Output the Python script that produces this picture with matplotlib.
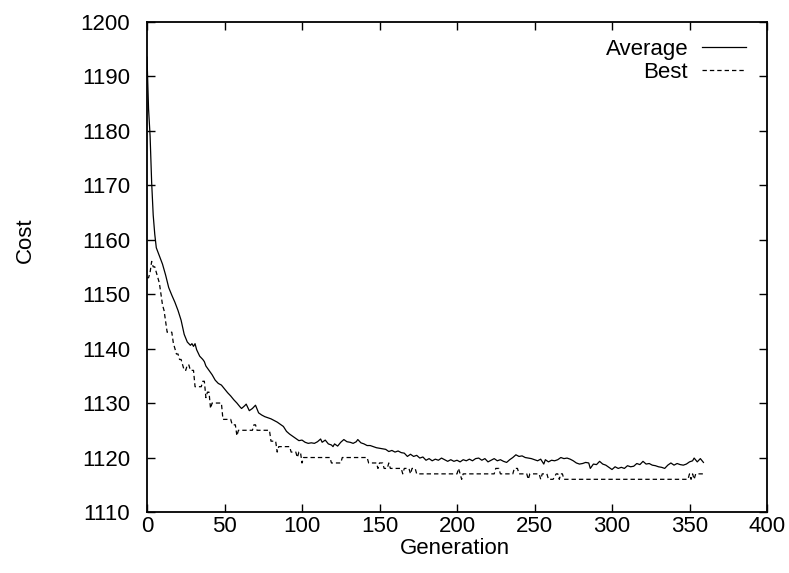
import matplotlib
matplotlib.use("Agg")
import matplotlib.pyplot as plt

plt.rcParams['font.family'] = ['Liberation Sans', 'DejaVu Sans']

# ---- data ----
avg_gen = [0, 1, 2, 3, 4, 5, 6, 8, 10, 12, 14, 16, 18, 20, 22, 24, 26, 28, 29, 30,
           31, 32, 34, 36, 37, 38, 40, 42, 44, 46, 48, 50, 52, 54, 56, 58, 60, 61, 63, 64,
           66, 68, 70, 72, 74, 76, 78, 80, 82, 84, 86, 88, 90, 92, 94, 96, 98, 100, 102, 104,
           106, 108, 110, 112, 113, 115, 117, 119, 120, 121, 123, 125, 127, 129, 131, 133, 135, 136, 138, 140,
           142, 144, 146, 148, 150, 152, 154, 156, 158, 160, 162, 164, 166, 168, 170, 172, 174, 176, 178, 180,
           182, 184, 186, 188, 190, 192, 194, 196, 198, 200, 202, 204, 206, 208, 210, 212, 214, 216, 218, 220,
           222, 224, 226, 228, 230, 232, 234, 236, 238, 240, 242, 244, 246, 248, 250, 252, 254, 256, 257, 259,
           261, 263, 265, 267, 269, 271, 273, 275, 277, 279, 281, 283, 285, 286, 288, 290, 292, 294, 296, 298,
           300, 302, 304, 306, 308, 310, 312, 314, 316, 318, 320, 322, 324, 326, 328, 330, 332, 334, 336, 338,
           340, 342, 344, 346, 348, 350, 352, 353, 355, 357, 359]
avg_cost = [1193.5, 1184, 1179, 1170.5, 1164.5, 1161, 1158.5, 1157, 1155.5, 1153.5, 1151.2, 1149.8, 1148.5, 1147, 1145.2, 1142.6, 1141.2, 1140.6, 1140.9, 1140.4,
            1140.9, 1139.8, 1138.6, 1138.0, 1137.6, 1136.8, 1136.0, 1135.2, 1134.2, 1133.6, 1133.3, 1132.6, 1131.9, 1131.3, 1130.6, 1130.0, 1129.3, 1129.0, 1129.5, 1129.8,
            1128.6, 1129.0, 1129.6, 1128.2, 1127.8, 1127.5, 1127.3, 1127.1, 1126.8, 1126.5, 1126.1, 1125.7, 1124.8, 1124.3, 1123.9, 1123.5, 1123.1, 1123.2, 1122.8, 1122.6,
            1122.7, 1122.6, 1122.9, 1123.4, 1122.8, 1123.2, 1122.5, 1122.3, 1122.0, 1122.5, 1122.1, 1122.8, 1123.3, 1122.9, 1122.8, 1122.6, 1122.9, 1123.3, 1122.7, 1122.5,
            1122.2, 1122.2, 1122.0, 1121.8, 1121.7, 1121.6, 1121.5, 1121.1, 1121.3, 1121.0, 1121.2, 1120.9, 1120.8, 1120.2, 1120.6, 1120.2, 1120.4, 1119.9, 1120.1, 1119.5,
            1119.8, 1119.4, 1119.7, 1119.5, 1119.9, 1119.6, 1119.3, 1119.6, 1119.3, 1119.5, 1119.2, 1119.6, 1119.4, 1119.7, 1119.4, 1119.8, 1119.9, 1119.5, 1119.8, 1119.2,
            1119.5, 1119.8, 1119.4, 1119.6, 1119.3, 1119.1, 1119.6, 1120.0, 1120.5, 1120.2, 1120.3, 1120.0, 1119.9, 1119.8, 1119.6, 1119.4, 1119.7, 1118.8, 1119.6, 1119.2,
            1119.5, 1119.4, 1119.6, 1120.0, 1119.8, 1119.9, 1119.7, 1119.4, 1119.0, 1118.8, 1118.9, 1119.1, 1119.0, 1118.0, 1118.8, 1118.7, 1119.3, 1118.8, 1118.6, 1118.2,
            1117.8, 1118.3, 1118.0, 1118.2, 1118.0, 1118.5, 1118.3, 1118.4, 1118.9, 1118.7, 1119.3, 1118.8, 1118.9, 1118.6, 1118.5, 1118.3, 1118.2, 1118.0, 1118.6, 1119.0,
            1118.6, 1118.9, 1118.7, 1118.6, 1118.8, 1119.2, 1119.4, 1119.9, 1119.2, 1119.8, 1119.1]

best_gen = [0, 1, 2, 3, 4, 5, 6, 7, 8, 9, 10, 11, 12, 13, 16, 17, 18, 19, 20, 21,
            22, 23, 24, 25, 26, 27, 28, 30, 31, 35, 36, 37, 38, 39, 40, 41, 42, 48, 49, 54,
            55, 57, 58, 59, 68, 69, 70, 71, 79, 80, 83, 84, 85, 92, 93, 95, 96, 97, 98, 99,
            100, 101, 118, 119, 125, 126, 142, 143, 148, 149, 150, 152, 153, 155, 156, 157, 164, 165, 166, 169,
            170, 171, 173, 174, 200, 201, 202, 203, 204, 224, 225, 227, 228, 236, 237, 239, 240, 245, 246, 247,
            253, 254, 255, 258, 259, 262, 264, 265, 266, 267, 268, 269, 349, 350, 351, 352, 353, 354, 359]
best_cost = [1153, 1153, 1154, 1156, 1155, 1155, 1154, 1153, 1152, 1150, 1148, 1147, 1145, 1143, 1143, 1141, 1140, 1139, 1139, 1138,
             1138, 1137, 1136, 1136, 1137, 1137, 1136, 1136, 1133, 1133, 1134, 1134, 1131, 1132, 1132, 1129, 1130, 1130, 1127, 1127,
             1126, 1126, 1124, 1125, 1125, 1126, 1126, 1125, 1125, 1123, 1123, 1121, 1122, 1122, 1121, 1121, 1121, 1120, 1121, 1121,
             1119, 1120, 1120, 1119, 1119, 1120, 1120, 1119, 1119, 1118, 1119, 1119, 1118, 1118, 1119, 1118, 1118, 1117, 1118, 1118,
             1117, 1118, 1118, 1117, 1117, 1118, 1117, 1116, 1117, 1117, 1118, 1118, 1117, 1117, 1118, 1118, 1117, 1117, 1116, 1117,
             1117, 1116, 1117, 1117, 1116, 1116, 1117, 1117, 1116, 1117, 1117, 1116, 1116, 1117, 1116, 1117, 1116, 1117, 1117]

x_ticks = [0, 50, 100, 150, 200, 250, 300, 350, 400]
y_ticks = [1110, 1120, 1130, 1140, 1150, 1160, 1170, 1180, 1190, 1200]
series_labels = ["Average", "Best"]

FS = 16
W, H = 789, 573
fig = plt.figure(figsize=(W / 100, H / 100), dpi=100)
ax = fig.add_axes([147 / W, 1 - 512 / H, (767 - 147) / W, (512 - 21.7) / H])

ax.plot(avg_gen, avg_cost, color='black', lw=0.9, label=series_labels[0])
ax.plot(best_gen, best_cost, color='black', lw=0.9, dashes=(3.5, 2.4), label=series_labels[1])

ax.set_xlim(0, 400)
ax.set_ylim(1110, 1200)
ax.set_xticks(x_ticks)
ax.set_yticks(y_ticks)
ax.tick_params(direction='in', length=6, width=1, top=True, right=True,
               labelsize=FS, colors='black')
ax.tick_params(axis='x', pad=3)
ax.tick_params(axis='y', pad=12)
for s in ax.spines.values():
    s.set_linewidth(1.3)

fig.text(25 / W, 1 - 240 / H, "Cost", rotation=90, fontsize=FS, ha='center', va='center')
fig.text(455 / W, 1 - 548 / H, "Generation", fontsize=FS, ha='center', va='center')

leg = ax.legend(loc='upper right', bbox_to_anchor=(746 / W, 1 - 39 / H),
                bbox_transform=fig.transFigure, frameon=False, markerfirst=False,
                fontsize=FS, handlelength=2.0, handletextpad=0.6, labelspacing=0.08,
                borderpad=0, borderaxespad=0)

fig.savefig("out.png", dpi=100)
